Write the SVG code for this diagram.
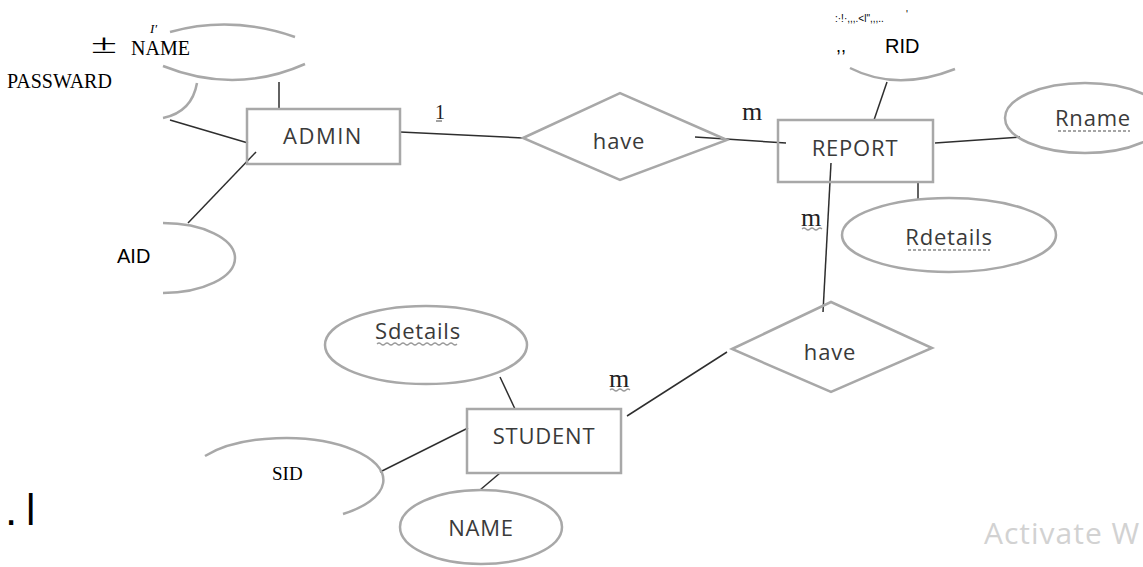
<svg xmlns="http://www.w3.org/2000/svg" width="1143" height="567" viewBox="0 0 1143 567">
<style>
.shape{fill:none;stroke:#a8a8a8;stroke-width:2.5}
.line{fill:none;stroke:#2e2e2e;stroke-width:1.5}
.lbl{font-family:"Open Sans","DejaVu Sans",sans-serif;font-size:22px;fill:#3a3a3a;text-anchor:middle;letter-spacing:0.8px}
.card{font-family:"Liberation Serif",serif;font-size:26px;fill:#222}
.wavy{fill:none;stroke:#9a9a9a;stroke-width:1.2}
.dots{fill:none;stroke:#888;stroke-width:1.5;stroke-dasharray:3 2}
.serif{font-family:"Liberation Serif",serif;fill:#000}
.sans{font-family:"Liberation Sans",sans-serif;fill:#000}
</style>
<defs>
<clipPath id="clipBar"><rect x="0" y="480" width="60" height="45"/></clipPath>
</defs>
<rect width="1143" height="567" fill="#fff"/>

<g id="connectors">
<line class="line" x1="279" y1="82" x2="279" y2="109"/>
<line class="line" x1="170" y1="120" x2="248" y2="143"/>
<line class="line" x1="256" y1="152" x2="188" y2="223"/>
<line class="line" x1="400" y1="132" x2="523" y2="138"/>
<line class="line" x1="695" y1="137" x2="786" y2="143"/>
<line class="line" x1="887" y1="82" x2="874" y2="120"/>
<line class="line" x1="935" y1="143" x2="1020" y2="137"/>
<line class="line" x1="918" y1="182" x2="918" y2="199"/>
<line class="line" x1="831" y1="163" x2="823" y2="312"/>
<line class="line" x1="727" y1="352" x2="627" y2="416"/>
<line class="line" x1="500" y1="377" x2="515" y2="409"/>
<line class="line" x1="380" y1="472" x2="468" y2="428"/>
<line class="line" x1="500" y1="473" x2="480" y2="490"/>
</g>

<g id="admin-name">
<path class="shape" d="M170,32 Q232,15 295,37"/>
<path class="shape" d="M163,66 Q235,95 305,64"/>
</g>
<g id="admin-password">
<path class="shape" d="M197,83 Q192,112 163,118"/>
</g>
<g id="admin-aid">
<path class="shape" d="M163,223 A72,35 0 0 1 163,293"/>
</g>
<g id="admin">
<rect class="shape" x="247" y="109" width="153" height="55"/>
<text class="lbl" x="323" y="144" style="letter-spacing:1.5px">ADMIN</text>
</g>
<g id="have1">
<polygon class="shape" points="523,138 620,93 727,140 620,180"/>
<text class="lbl" x="619" y="149">have</text>
</g>
<g id="report">
<rect class="shape" x="778" y="120" width="155" height="62"/>
<text class="lbl" x="855" y="156">REPORT</text>
</g>
<g id="report-rid">
<path class="shape" d="M850,68 Q897,92 955,69"/>
</g>
<g id="report-rname">
<ellipse class="shape" cx="1085" cy="118" rx="80" ry="35"/>
<text class="lbl" x="1093" y="126">Rname</text>
<line class="dots" x1="1058" y1="131" x2="1130" y2="131"/>
</g>
<g id="report-rdetails">
<ellipse class="shape" cx="949" cy="235" rx="107" ry="37"/>
<text class="lbl" x="949" y="245">Rdetails</text>
<line class="dots" x1="908" y1="250" x2="990" y2="250"/>
</g>
<g id="have2">
<polygon class="shape" points="732,349 831,302 932,348 831,392"/>
<text class="lbl" x="830" y="360">have</text>
</g>
<g id="student">
<rect class="shape" x="467" y="409" width="154" height="64"/>
<text class="lbl" x="544" y="444">STUDENT</text>
</g>
<g id="student-sdetails">
<ellipse class="shape" cx="426" cy="345" rx="101" ry="39"/>
<text class="lbl" x="418" y="339">Sdetails</text>
<path class="wavy" d="M377,344 q2,-2 4,0 t4,0 t4,0 t4,0 t4,0 t4,0 t4,0 t4,0 t4,0 t4,0 t4,0 t4,0 t4,0 t4,0 t4,0 t4,0 t4,0 t4,0 t4,0 t4,0"/>
</g>
<g id="student-sid">
<path class="shape" d="M205,456 A98,42 0 1 1 343,514"/>
</g>
<g id="student-name">
<ellipse class="shape" cx="481" cy="527" rx="81" ry="37"/>
<text class="lbl" x="481" y="536">NAME</text>
</g>

<g id="cardinalities">
<text class="card" x="435" y="119" style="font-size:20px">1</text>
<line x1="436" y1="121" x2="442" y2="121" stroke="#444" stroke-width="1"/>
<text class="card" x="742" y="120">m</text>
<text class="card" x="801" y="226">m</text>
<path class="wavy" d="M802,229 q2,-2 4,0 t4,0 t4,0 t4,0 t4,0"/>
<text class="card" x="609" y="387">m</text>
<path class="wavy" d="M610,390 q2,-2 4,0 t4,0 t4,0 t4,0 t4,0"/>
</g>

<g id="overlay-text">
<text class="serif" x="91" y="53" font-size="28" textLength="26" lengthAdjust="spacingAndGlyphs">±</text>
<text class="serif" x="150" y="33" font-size="13" font-style="italic">I′</text>
<text class="serif" x="131" y="55" font-size="20">NAME</text>
<text class="serif" x="7" y="88" font-size="20">PASSWARD</text>
<text class="sans" x="117" y="263" font-size="20">AID</text>
<text class="sans" x="835" y="22" font-size="10">:·!·,,,.&lt;l",,,..</text>
<text class="sans" x="906" y="18" font-size="10">'</text>
<text class="sans" x="836" y="52" font-size="18">,,</text>
<text class="sans" x="885" y="53" font-size="20">RID</text>
<text class="serif" x="272" y="480" font-size="19">SID</text>
<text class="sans" x="5" y="525" font-size="44">.</text>
<text class="sans" x="25" y="525" font-size="44" clip-path="url(#clipBar)">|</text>
<text x="984" y="544" font-family="Open Sans, DejaVu Sans, sans-serif" font-size="30" fill="#d2d2d2" letter-spacing="1">Activate W</text>
</g>
</svg>
